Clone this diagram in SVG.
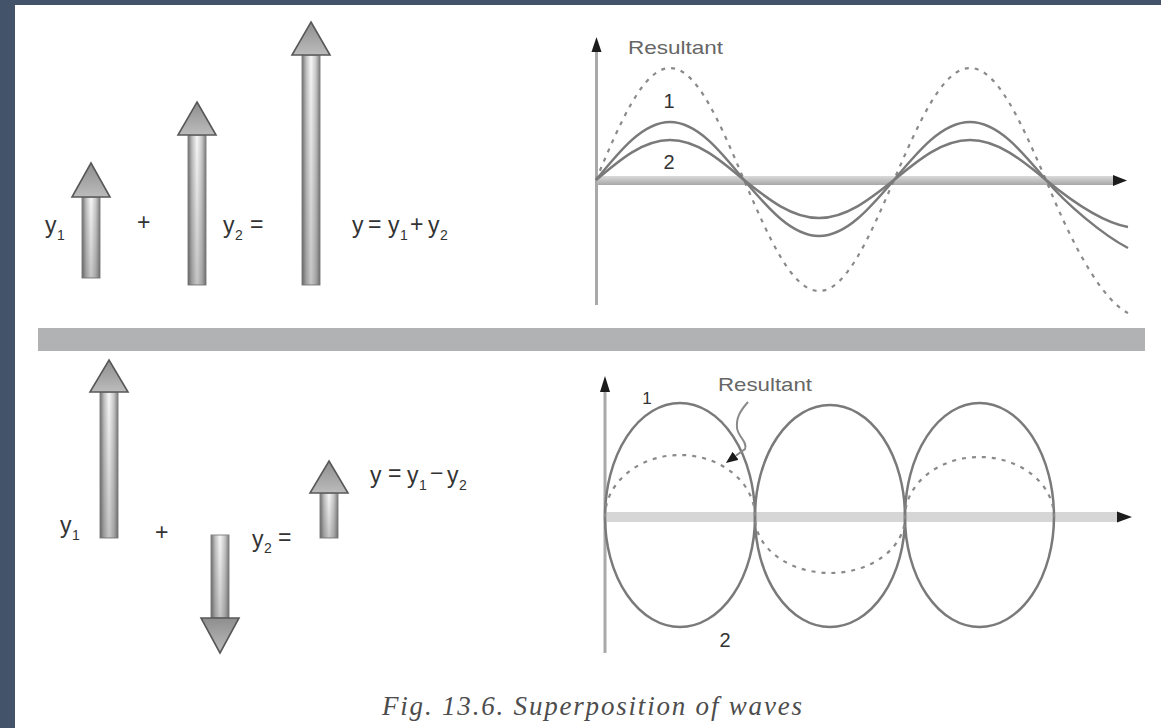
<svg xmlns="http://www.w3.org/2000/svg" width="1161" height="728" viewBox="0 0 1161 728">
<style>
.lbl{font-family:"Liberation Sans",Arial,sans-serif;font-size:23px;fill:#333}
.sub{font-family:"Liberation Sans",Arial,sans-serif;font-size:14px;fill:#333}
.res{font-family:"Liberation Sans",Arial,sans-serif;font-size:19px;fill:#666}
.num{font-family:"Liberation Sans",Arial,sans-serif;font-size:20px;fill:#333;text-anchor:middle}
.cap{font-family:"Liberation Serif","Times New Roman",serif;font-style:italic;font-size:27px;fill:#4d4d4d}
.shaft{fill:url(#shaftGrad);stroke:#858585;stroke-width:1}
.shade{fill:url(#shadeV)}
.head{fill:url(#headGrad);stroke:#585858;stroke-width:1.6;stroke-linejoin:miter}
.yaxis{stroke:#a9a9a9;stroke-width:3;fill:none}
.ahead{fill:#1c1c1c}
.wave{fill:none;stroke:#7a7a7a;stroke-width:2.5}
.dash{fill:none;stroke:#8a8a8a;stroke-width:2.2;stroke-dasharray:4 6}
.leader{fill:none;stroke:#8a8a8a;stroke-width:2}
</style>
<defs>
<linearGradient id="shaftGrad" x1="0" y1="0" x2="1" y2="0">
<stop offset="0" stop-color="#6e6e6e"/>
<stop offset="0.22" stop-color="#bdbdbd"/>
<stop offset="0.5" stop-color="#f8f8f8"/>
<stop offset="0.78" stop-color="#c6c6c6"/>
<stop offset="1" stop-color="#7a7a7a"/>
</linearGradient>
<linearGradient id="shadeV" x1="0" y1="0" x2="0" y2="1">
<stop offset="0" stop-color="#505050" stop-opacity="0"/>
<stop offset="1" stop-color="#505050" stop-opacity="0.3"/>
</linearGradient>
<linearGradient id="headGrad" x1="0" y1="0" x2="0" y2="1">
<stop offset="0" stop-color="#8e8e8e"/>
<stop offset="1" stop-color="#bcbcbc"/>
</linearGradient>
<linearGradient id="xaxisGrad" x1="0" y1="0" x2="0" y2="1">
<stop offset="0" stop-color="#dadada"/>
<stop offset="1" stop-color="#a8a8a8"/>
</linearGradient>
<marker id="lead" markerUnits="userSpaceOnUse" markerWidth="14" markerHeight="12" refX="2" refY="5" orient="auto">
<path d="M0,0 L12,5 L0,10 Z" fill="#1c1c1c"/>
</marker>
</defs>

<rect width="1161" height="728" fill="#ffffff"/>
<g id="frame">
<rect x="0" y="0" width="1161" height="5" fill="#43546a"/>
<rect x="0" y="0" width="15" height="728" fill="#43546a"/>
</g>
<g id="separator">
<rect x="38" y="328" width="1107" height="23" fill="#b1b2b4"/>
</g>

<g id="arrow-y1-top">
<rect class="shaft" x="82" y="197" width="18" height="81"/>
<rect class="shade" x="82" y="197" width="18" height="81"/>
<polygon class="head" points="91,163 110,197 72,197"/>
</g>
<g id="arrow-y2-top">
<rect class="shaft" x="188" y="135" width="18" height="150"/>
<rect class="shade" x="188" y="135" width="18" height="150"/>
<polygon class="head" points="197,102 216,135 178,135"/>
</g>
<g id="arrow-y-top">
<rect class="shaft" x="302" y="55" width="18" height="230"/>
<rect class="shade" x="302" y="55" width="18" height="230"/>
<polygon class="head" points="311,22 330,55 292,55"/>
</g>
<g id="labels-top">
<text class="lbl" x="45" y="233">y</text><text class="sub" x="57" y="240">1</text>
<text class="lbl" x="137" y="230">+</text>
<text class="lbl" x="223" y="233">y</text><text class="sub" x="235" y="240">2</text>
<text class="lbl" x="250" y="232">=</text>
<text class="lbl" x="352" y="233">y</text>
<text class="lbl" x="368" y="232">=</text>
<text class="lbl" x="388" y="233">y</text><text class="sub" x="400" y="240">1</text>
<text class="lbl" x="410" y="232">+</text>
<text class="lbl" x="428" y="233">y</text><text class="sub" x="440" y="240">2</text>
</g>

<g id="graph-top">
<line class="yaxis" x1="596.5" y1="46" x2="596.5" y2="305"/>
<polygon class="ahead" points="596.5,37 601.5,52 591.5,52"/>
<rect x="597" y="176" width="518" height="9" fill="url(#xaxisGrad)"/>
<polygon class="ahead" points="1127,180.5 1113,175 1113,186"/>
<path class="dash" d="M596,180 C620.1,122.6 643.2,68 670,68 C696.8,68 719.9,122.6 744,180 C768.5,236.9 791.9,291 819,291 C846.1,291 869.5,236.9 894,180 C918.8,122.6 942.5,68 970,68 C997.5,68 1021.2,122.6 1046,180 C1058,210 1094,296 1128,313"/>
<path class="wave" d="M596,180 C620.1,150.3 643.2,122 670,122 C696.8,122 719.9,150.3 744,180 C768.5,208.7 791.9,236 819,236 C846.1,236 869.5,208.7 894,180 C918.8,150.3 942.5,122 970,122 C997.5,122 1021.2,150.3 1046,180 C1066,204 1103,235 1128,248"/>
<path class="wave" d="M596,180 C620.1,159.5 643.2,140 670,140 C696.8,140 719.9,159.5 744,180 C768.5,199.5 791.9,218 819,218 C846.1,218 869.5,199.5 894,180 C918.8,159.5 942.5,140 970,140 C997.5,140 1021.2,159.5 1046,180 C1066,196.5 1100,222 1128,227"/>
<text class="res" x="628" y="54" textLength="95" lengthAdjust="spacingAndGlyphs">Resultant</text>
<text class="num" x="669" y="108">1</text>
<text class="num" x="669" y="169">2</text>
</g>

<g id="arrow-y1-bottom">
<rect class="shaft" x="100" y="392" width="18" height="146"/>
<rect class="shade" x="100" y="392" width="18" height="146"/>
<polygon class="head" points="109,360 128,392 90,392"/>
</g>
<g id="arrow-y2-bottom">
<rect class="shaft" x="211" y="535" width="18" height="83"/>
<rect class="shade" x="211" y="535" width="18" height="83"/>
<polygon class="head" points="220,653 239,618 201,618"/>
</g>
<g id="arrow-y-bottom">
<rect class="shaft" x="320" y="493" width="18" height="45"/>
<rect class="shade" x="320" y="493" width="18" height="45"/>
<polygon class="head" points="329,461 348,493 310,493"/>
</g>
<g id="labels-bottom">
<text class="lbl" x="60" y="533">y</text><text class="sub" x="72" y="540">1</text>
<text class="lbl" x="155" y="540">+</text>
<text class="lbl" x="252" y="547">y</text><text class="sub" x="264" y="553">2</text>
<text class="lbl" x="278" y="545">=</text>
<text class="lbl" x="370" y="483">y</text>
<text class="lbl" x="388" y="481">=</text>
<text class="lbl" x="407" y="483">y</text><text class="sub" x="419" y="490">1</text>
<text class="lbl" x="430" y="481">−</text>
<text class="lbl" x="447" y="483">y</text><text class="sub" x="459" y="490">2</text>
</g>

<g id="graph-bottom">
<line class="yaxis" x1="605" y1="385" x2="605" y2="653"/>
<polygon class="ahead" points="605,376 610,392 600,392"/>
<rect x="605" y="512" width="512" height="10" fill="#d6d6d6"/>
<polygon class="ahead" points="1132,517 1117,511.5 1117,522.5"/>
<path class="wave" d="M605,517 A75,114 0 0 1 755,517 A75,110 0 0 0 905,517 A74.5,114 0 0 1 1054,517"/>
<path class="wave" d="M605,517 A75,110 0 0 0 755,517 A75,112 0 0 1 905,517 A74.5,110 0 0 0 1054,517"/>
<path class="dash" d="M605,517 A75,62 0 0 1 755,517 A75,56 0 0 0 905,517 A74.5,60 0 0 1 1054,517"/>
<text class="res" x="718" y="391" textLength="94" lengthAdjust="spacingAndGlyphs">Resultant</text>
<text class="num" x="647" y="404" style="font-size:17px">1</text>
<text class="num" x="725" y="647">2</text>
</g>

<g id="connectors">
<path class="leader" d="M748,402 C740,411 736,418 737,428 C738,437 748,442 745,449 L734,457" marker-end="url(#lead)"/>
</g>

<g id="caption">
<text class="cap" x="382" y="715" textLength="420" lengthAdjust="spacing">Fig. 13.6. Superposition of waves</text>
</g>
</svg>
